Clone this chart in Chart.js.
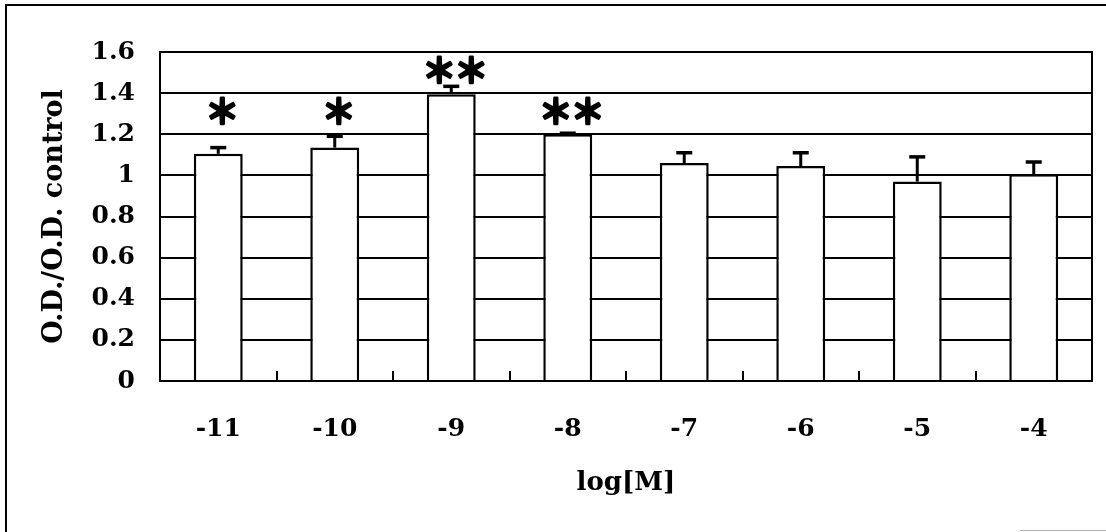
<!DOCTYPE html>
<html>
<head>
<meta charset="utf-8">
<script src="https://cdn.jsdelivr.net/npm/chart.js@4/dist/chart.umd.min.js"></script>
<style>
  html, body { margin: 0; padding: 0; background: #fff; }
  canvas { display: block; }
</style>
</head>
<body>
<canvas id="chart" width="1106" height="532"></canvas>
<script>
// Concentration (log molar) for each treatment group
const categories = ['-11', '-10', '-9', '-8', '-7', '-6', '-5', '-4'];
// Mean O.D. relative to control
const meanRatio = [1.105, 1.135, 1.395, 1.20, 1.06, 1.045, 0.97, 1.005];
// Upper error (standard deviation)
const errRatio = [0.03, 0.055, 0.038, 0.005, 0.05, 0.065, 0.12, 0.06];
// Significance markers
const significance = ['*', '*', '**', '**', '', '', '', ''];
// Value axis range
const yMin = 0, yMax = 1.6, yStep = 0.2;

const SERIF = '"DejaVu Serif", "Liberation Serif", serif';
const INK = '#000';

// Draws the page frame, the plot box, error bars and significance stars
const annotations = {
  id: 'annotations',
  beforeDraw(chart) {
    const { ctx, width, height } = chart;
    ctx.save();
    ctx.fillStyle = '#fff';
    ctx.fillRect(0, 0, width, height);
    ctx.strokeStyle = INK;
    ctx.lineWidth = 2;
    ctx.beginPath();
    ctx.moveTo(6, height);
    ctx.lineTo(6, 5);
    ctx.lineTo(width, 5);
    ctx.stroke();
    ctx.strokeStyle = '#b0b0b0';
    ctx.lineWidth = 1;
    ctx.beginPath();
    ctx.moveTo(1020, height - 1.5);
    ctx.lineTo(width, height - 1.5);
    ctx.stroke();
    ctx.restore();
  },
  afterDatasetsDraw(chart) {
    const { ctx, chartArea } = chart;
    const yScale = chart.scales.y;
    const meta = chart.getDatasetMeta(0);
    ctx.save();
    ctx.strokeStyle = INK;
    // error bars (upper only)
    meta.data.forEach((bar, i) => {
      const yTop = yScale.getPixelForValue(meanRatio[i]);
      const yCap = yScale.getPixelForValue(meanRatio[i] + errRatio[i]);
      ctx.lineWidth = 3;
      ctx.beginPath();
      ctx.moveTo(bar.x, yTop);
      ctx.lineTo(bar.x, yCap);
      ctx.stroke();
      ctx.lineWidth = 3.5;
      ctx.beginPath();
      ctx.moveTo(bar.x - 8, yCap);
      ctx.lineTo(bar.x + 8, yCap);
      ctx.stroke();
    });
    // plot box
    ctx.lineWidth = 2;
    ctx.strokeRect(chartArea.left, chartArea.top, chartArea.right - chartArea.left, chartArea.bottom - chartArea.top);
    ctx.restore();
  },
  afterDraw(chart) {
    const { ctx } = chart;
    const yScale = chart.scales.y;
    const meta = chart.getDatasetMeta(0);
    ctx.save();
    ctx.fillStyle = INK;
    ctx.strokeStyle = INK;
    ctx.lineWidth = 2.6;
    ctx.lineJoin = 'round';
    ctx.font = 'bold 34px "Noto Sans CJK JP", sans-serif';
    ctx.textAlign = 'center';
    ctx.textBaseline = 'middle';
    meta.data.forEach((bar, i) => {
      const n = significance[i].length;
      if (!n) return;
      const yCap = yScale.getPixelForValue(meanRatio[i] + errRatio[i]);
      const y = Math.min(yScale.getPixelForValue(1.3), yCap - 13) - 3;
      const cx = bar.x + 4;
      for (let k = 0; k < n; k++) {
        const x = cx + (k - (n - 1) / 2) * 32;
        ctx.fillText('\uFF0A', x, y);
        ctx.strokeText('\uFF0A', x, y);
      }
    });
    ctx.restore();
  }
};

new Chart(document.getElementById('chart'), {
  type: 'bar',
  data: {
    labels: categories,
    datasets: [{
      data: meanRatio,
      backgroundColor: '#fff',
      borderColor: INK,
      borderWidth: 2.5,
      borderSkipped: 'bottom',
      barPercentage: 0.84,
      categoryPercentage: 0.5
    }]
  },
  options: {
    responsive: false,
    animation: false,
    layout: { padding: { left: 0, top: 52, right: 14, bottom: 0 } },
    plugins: { legend: { display: false }, tooltip: { enabled: false } },
    scales: {
      x: {
        afterFit(scale) { scale.height = 151; },
        grid: {
          display: true,
          offset: true,
          drawOnChartArea: false,
          drawTicks: true,
          tickLength: -10,
          color: INK,
          lineWidth: 2
        },
        border: { display: true, color: INK, width: 2 },
        ticks: {
          color: INK,
          padding: 43,
          font: { family: SERIF, size: 25, weight: 'bold' }
        },
        title: {
          display: true,
          text: 'log[M]',
          color: INK,
          padding: { top: 0, bottom: 33 },
          font: { family: SERIF, size: 26, weight: 'bold' }
        }
      },
      y: {
        min: yMin,
        max: yMax,
        afterFit(scale) { scale.width = 160; },
        grid: { color: INK, lineWidth: 2, drawTicks: false },
        border: { display: true, color: INK, width: 2 },
        ticks: {
          stepSize: yStep,
          color: INK,
          padding: 25,
          font: { family: SERIF, size: 25, weight: 'bold' },
          callback: v => String(Number(v.toFixed(1)))
        },
        title: {
          display: true,
          text: 'O.D./O.D. control',
          color: INK,
          padding: { top: 39, bottom: 0 },
          font: { family: SERIF, size: 27, weight: 'bold' }
        }
      }
    }
  },
  plugins: [annotations]
});
</script>
</body>
</html>
